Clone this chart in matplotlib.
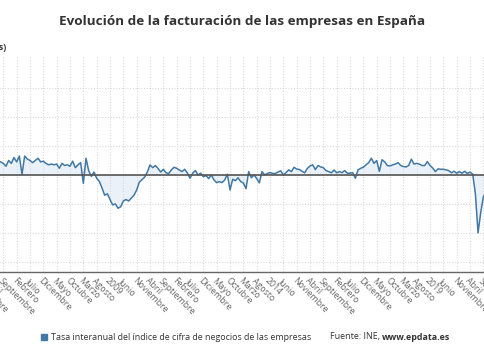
import numpy as np
import matplotlib.pyplot as plt

# months counted from January 2009 (0 = Ene 2009)
start_month = -42
tasa = [9.5, 9, 8, 6, 10, 8, 12, 9, 13, 0.5,
        13, 11, 10, 8.5, 10, 11.5, 9, 9.5, 8, 7,
        7.5, 7, 7.5, 4.6, 8, 6.5, 7, 6, 9.5, 5,
        7, 8.5, -5.8, 11.5, 3, -1, 2, -2.3, -4.5, -9,
        -14, -13, -17, -20.7, -20, -23, -22, -18, -17, -18,
        -16, -14, -10.4, -5, -3.2, -1.5, 2, 6.9, 5, 6.5,
        4.5, 2, 3.9, 1.5, 1, 3.5, 5.3, 4.6, 3.4, 2.3,
        3.9, 1.5, -2.3, 1.2, 3, 0, 1.2, -1.2, -0.5, -2.5,
        0, -3.5, -5.3, -4.6, -5.3, -3.5, 0.5, -10.4, -3, -4,
        -2, -4.6, -5.5, -9.5, 2.3, -2, 0, -2.5, -5.5, 2.3,
        0, 1, 1.6, 1, 1, 2, 2.8, 0, 1.6, 3.5,
        2.3, 5.3, 4, 3.8, 2.5, 1.5, 4.5, 6.2, 7, 3.7,
        6.5, 5.5, 5, 3, 2.3, 1.5, 3.4, 1.5, 2.3, 1.6,
        3, 1.2, 1.2, 1.6, -2.3, 3.5, 4.6, 5.3, 7, 8.5,
        11.5, 8, 9.9, 2.5, 10.5, 9, 6.5, 6.2, 7, 7.5,
        8.5, 6.5, 5.8, 5.5, 6.5, 10.9, 7.5, 8, 7.5, 6.5,
        6.5, 9.2, 6.5, 4.8, 2.3, 4.2, 3.9, 3.9, 3.5, 3,
        1.5, 2.5, 1.2, 2.3, 1.2, 2.5, 1, 2, 0.5, -13,
        -40, -26, -15, -12, -10]
meses = ["Enero", "Febrero", "Marzo", "Abril", "Mayo", "Junio", "Julio",
         "Agosto", "Septiembre", "Octubre", "Noviembre", "Diciembre"]
titulo = "Evolución de la facturación de las empresas en España"
serie = "Tasa interanual del índice de cifra de negocios de las empresas"

t = np.arange(start_month, start_month + len(tasa))
tasa = np.array(tasa)

plt.rcParams['font.family'] = ['Open Sans', 'DejaVu Sans']
fig = plt.figure(figsize=(4.85, 3.6), dpi=100)

# plot area is wider than the picture (cropped like the original)
W, H = 485, 360
px_l, px_r, px_t, px_b = -160, 500, 57, 272
ax = fig.add_axes([px_l / W, 1 - px_b / H, (px_r - px_l) / W, (px_b - px_t) / H])
ax.set_xlim((px_l - 110) / 2.667, (px_r - 110) / 2.667)
ax.set_ylim(-67, 81.4)

ax.fill_between(t, tasa, 0, color='#dce8f4', alpha=0.6, lw=0)
ax.plot(t, tasa, color='#4178a4', lw=1.1)
ax.axhline(0, color='#555555', lw=1.2)

ticks = np.arange(-100, 146, 5)
labels = [str(2009 + k // 12) if k % 12 == 0 else meses[k % 12] for k in ticks]
ax.set_xticks(ticks)
ax.set_xticklabels(labels, rotation=-45, ha='left', va='top',
                   rotation_mode='anchor', fontsize=6.3, color='#666666')
ax.set_yticks(np.arange(-60, 61, 20))
ax.set_yticklabels([])
ax.tick_params(axis='both', length=0, pad=3)
ax.grid(True, color='#d9d9d9', lw=0.8, ls=(0, (1, 1.5)))
for s in ['top', 'left', 'right']:
    ax.spines[s].set_visible(False)
ax.spines['bottom'].set_color('#666666')
ax.spines['bottom'].set_linewidth(1.0)

fig.text(0.5, 1 - 22 / H, titulo, ha='center', va='center',
         fontsize=9.7, fontweight='bold', color='#333333')
fig.text(6 / W, 1 - 47 / H, "(en porcentajes)", ha='right', va='center',
         fontsize=6.5, fontweight='bold', color='#333333')

# legend row
fig.patches.append(plt.Rectangle((41 / W, 1 - 340 / H), 6 / W, 6 / H,
                                 transform=fig.transFigure, color='#4178a4'))
fig.text(51 / W, 1 - 337 / H, serie, ha='left', va='center',
         fontsize=6.4, color='#333333')
fuente = fig.text(330 / W, 1 - 337 / H, "Fuente: INE, ", ha='left', va='center',
                  fontsize=6.4, color='#333333')
fig.canvas.draw()
bb = fuente.get_window_extent()
fig.text(bb.x1 / W, 1 - 337 / H, "www.epdata.es", ha='left', va='center',
         fontsize=6.4, fontweight='bold', color='#333333')

fig.savefig("out.png", dpi=100)
